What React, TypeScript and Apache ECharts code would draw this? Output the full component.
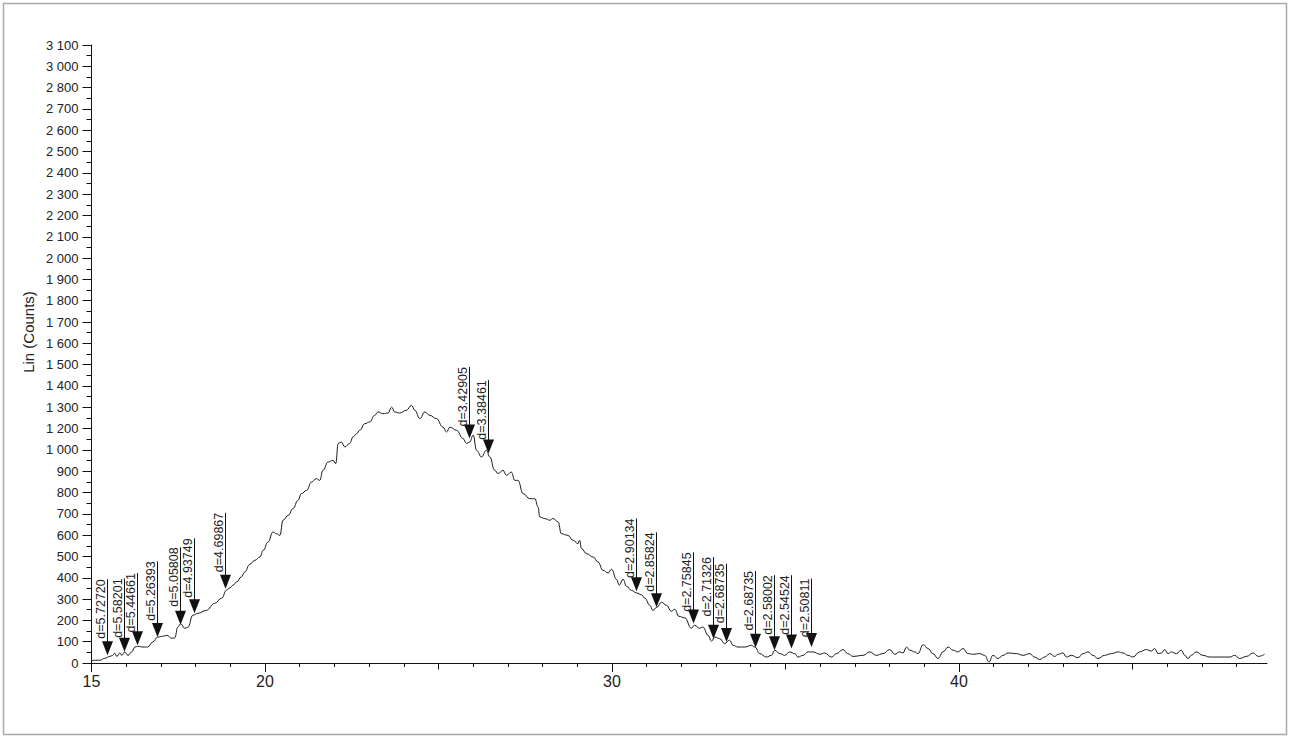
import React, { useEffect, useRef } from "react";
import * as echarts from "echarts";

// Diffractogram trace (2θ in degrees, intensity in axis units)
const twoTheta = [
  15.0, 15.24, 15.38, 15.53, 15.61, 15.67, 15.73, 15.82, 15.87, 15.96, 16.05, 16.16, 16.25, 16.33, 16.48, 16.62,
  16.77, 16.91, 17.05, 17.17, 17.31, 17.4, 17.49, 17.57, 17.69, 17.78, 17.92, 18.06, 18.31, 18.55, 18.75, 18.89,
  18.99, 19.08, 19.18, 19.32, 19.42, 19.56, 19.71, 19.85, 19.95, 20.09, 20.23, 20.33, 20.43, 20.52, 20.67, 20.81,
  20.95, 21.05, 21.2, 21.34, 21.48, 21.58, 21.67, 21.82, 21.96, 22.04, 22.11, 22.2, 22.3, 22.44, 22.54, 22.64,
  22.73, 22.88, 23.02, 23.16, 23.26, 23.4, 23.55, 23.65, 23.74, 23.88, 24.08, 24.22, 24.32, 24.46, 24.61, 24.75,
  24.94, 25.13, 25.23, 25.33, 25.52, 25.71, 25.81, 25.9, 26.0, 26.1, 26.24, 26.38, 26.48, 26.62, 26.72, 26.86,
  26.96, 27.1, 27.2, 27.29, 27.44, 27.63, 27.78, 27.87, 27.92, 28.06, 28.21, 28.3, 28.45, 28.54, 28.73, 28.88,
  29.02, 29.07, 29.12, 29.27, 29.46, 29.6, 29.74, 29.89, 29.99, 30.13, 30.21, 30.32, 30.42, 30.56, 30.71, 30.85,
  30.95, 31.09, 31.18, 31.29, 31.43, 31.57, 31.71, 31.81, 31.93, 32.1, 32.29, 32.38, 32.53, 32.62, 32.77, 32.87,
  32.96, 33.11, 33.25, 33.39, 33.49, 33.63, 33.83, 34.02, 34.12, 34.26, 34.45, 34.6, 34.69, 34.84, 34.98, 35.12,
  35.27, 35.36, 35.51, 35.65, 35.8, 35.99, 36.13, 36.33, 36.47, 36.66, 36.8, 36.95, 37.24, 37.43, 37.62, 37.81,
  38.01, 38.15, 38.29, 38.39, 38.49, 38.58, 38.73, 38.82, 38.97, 39.11, 39.25, 39.4, 39.54, 39.69, 39.83, 39.97,
  40.12, 40.26, 40.41, 40.6, 40.74, 40.87, 40.98, 41.13, 41.27, 41.42, 41.66, 41.85, 42.04, 42.18, 42.33, 42.47,
  42.62, 42.76, 42.86, 43.0, 43.1, 43.24, 43.43, 43.58, 43.72, 43.86, 44.01, 44.2, 44.39, 44.59, 44.73, 44.87,
  45.02, 45.21, 45.4, 45.55, 45.64, 45.74, 45.84, 45.93, 46.03, 46.12, 46.27, 46.41, 46.51, 46.6, 46.7, 46.84,
  47.03, 47.23, 47.52, 47.81, 47.95, 48.09, 48.29, 48.48, 48.63, 48.81,
];
const counts = [
  12, 13, 22, 31, 36, 46, 31, 47, 36, 52, 36, 52, 75, 78, 75, 75,
  99, 122, 125, 130, 116, 118, 169, 184, 163, 168, 224, 233, 247, 280, 304, 341,
  353, 365, 380, 404, 427, 463, 482, 497, 529, 568, 615, 607, 599, 670, 693, 725,
  763, 795, 810, 849, 865, 857, 904, 943, 951, 936, 1030, 1037, 1014, 1030, 1061, 1076,
  1092, 1123, 1131, 1162, 1178, 1170, 1173, 1201, 1178, 1173, 1186, 1209, 1186, 1147, 1178, 1162,
  1147, 1107, 1084, 1107, 1092, 1053, 1030, 1037, 1069, 998, 967, 998, 967, 904, 889, 904,
  881, 896, 857, 857, 795, 771, 771, 732, 685, 678, 670, 678, 662, 607, 599, 576,
  560, 576, 537, 513, 497, 474, 435, 423, 440, 393, 365, 393, 360, 341, 329, 320,
  304, 271, 247, 261, 285, 271, 243, 252, 219, 212, 163, 177, 163, 169, 130, 102,
  122, 114, 91, 107, 83, 75, 75, 83, 75, 44, 28, 36, 60, 44, 36, 52,
  44, 28, 36, 52, 52, 41, 47, 28, 44, 63, 44, 31, 36, 52, 36, 44,
  63, 41, 52, 47, 75, 60, 52, 44, 86, 68, 44, 21, 52, 75, 60, 52,
  68, 44, 41, 44, 36, 5, 36, 21, 36, 47, 44, 36, 44, 28, 16, 28,
  44, 31, 41, 47, 28, 36, 25, 44, 52, 36, 21, 36, 44, 52, 47, 36,
  28, 52, 63, 56, 68, 44, 47, 63, 44, 52, 44, 60, 36, 21, 36, 52,
  36, 28, 28, 28, 36, 21, 31, 47, 31, 41,
];

// Peak markers
const peakLabels = [
  "d=5.72720", "d=5.58201", "d=5.44661", "d=5.26393", "d=5.05808", "d=4.93749", "d=4.69867",
  "d=3.42905", "d=3.38461", "d=2.90134", "d=2.85824", "d=2.75845", "d=2.71326", "d=2.68735",
  "d=2.68735", "d=2.58002", "d=2.54524", "d=2.50811",
];
const peakTwoTheta = [
  15.45, 15.93, 16.3, 16.88, 17.56, 17.94, 18.86, 25.88, 26.43, 30.7, 31.28, 32.34, 32.9, 33.3,
  34.12, 34.67, 35.15, 35.75,
];
const peakTip = [36, 53, 83, 122, 179, 233, 349, 1053, 983, 337, 262, 185, 114, 98, 72, 60, 68, 75];
const peakTop = [393, 397, 422, 477, 543, 585, 705, 1389, 1327, 678, 613, 519, 497, 466, 432, 412, 412, 396];

// Axis tick labels as printed (the original skips 1 100 and 2 900)
const yTickLabels = [
  "0", "100", "200", "300", "400", "500", "600", "700", "800", "900", "1 000", "1 200", "1 300", "1 400",
  "1 500", "1 600", "1 700", "1 800", "1 900", "2 000", "2 100", "2 200", "2 300", "2 400", "2 500",
  "2 600", "2 700", "2 800", "3 000", "3 100",
];
const xLabelValues = [15, 20, 30, 40];
const xMidTicks = [25, 35, 45];
const xMin = 15;
const xMax = 48.88;

const FONT = '"Liberation Sans", Arial, sans-serif';

export default function App() {
  const ref = useRef<HTMLDivElement>(null);
  useEffect(() => {
    if (!ref.current) return;
    const chart = echarts.init(ref.current, undefined, { renderer: "svg" });
    const minorTicks: number[] = [];
    for (let v = Math.ceil(xMin); v <= Math.floor(xMax); v++) minorTicks.push(v);
    const linePoints = twoTheta.map((t, i) => [t, counts[i]]);
    const peaks = peakTwoTheta.map((t, i) => [t, peakTip[i], peakTop[i]]);
    const baseX = {
      type: "value",
      min: xMin,
      max: xMax,
      interval: 5,
      position: "bottom",
      splitLine: { show: false },
    };
    chart.setOption({
      animation: false,
      backgroundColor: "#ffffff",
      grid: { left: 91.5, right: 23, top: 45, bottom: 75 },
      xAxis: [
        {
          ...baseX,
          axisLine: { show: true, lineStyle: { color: "#111", width: 1 } },
          axisTick: { show: true, customValues: xLabelValues, length: 9, lineStyle: { color: "#111" } },
          axisLabel: {
            customValues: xLabelValues,
            margin: 10,
            color: "#222",
            fontSize: 16,
            fontFamily: FONT,
          },
        },
        {
          ...baseX,
          axisLine: { show: false },
          axisTick: { show: true, customValues: xMidTicks, length: 6.5, lineStyle: { color: "#111" } },
          axisLabel: { show: false },
        },
        {
          ...baseX,
          axisLine: { show: false },
          axisTick: { show: true, customValues: minorTicks, length: 4, lineStyle: { color: "#111" } },
          axisLabel: { show: false },
        },
      ],
      yAxis: {
        type: "value",
        min: 0,
        max: (yTickLabels.length - 1) * 100,
        interval: 100,
        splitLine: { show: false },
        axisLine: { show: true, lineStyle: { color: "#111", width: 1 } },
        axisTick: { show: true, length: 9, lineStyle: { color: "#111" } },
        minorTick: { show: true, splitNumber: 2, length: 5, lineStyle: { color: "#111" } },
        axisLabel: {
          margin: 13,
          color: "#222",
          fontSize: 13,
          fontFamily: FONT,
          formatter: (v: number) => yTickLabels[Math.round(v / 100)] ?? "",
        },
      },
      series: [
        {
          type: "line",
          data: linePoints,
          showSymbol: false,
          smooth: 0.45,
          smoothMonotone: "x",
          lineStyle: { color: "#1a1a1a", width: 1 },
          silent: true,
        },
        {
          type: "custom",
          data: peaks,
          encode: { x: 0, y: [1, 2] },
          renderItem: (params: any, api: any) => {
            const x = api.value(0);
            const tip = api.coord([x, api.value(1)]);
            const top = api.coord([x, api.value(2)]);
            const px = Math.round(tip[0]) + 0.5;
            return {
              type: "group",
              children: [
                {
                  type: "line",
                  shape: { x1: px, y1: top[1], x2: px, y2: tip[1] - 13 },
                  style: { stroke: "#111", lineWidth: 1 },
                },
                {
                  type: "polygon",
                  shape: {
                    points: [
                      [px - 5.5, tip[1] - 14],
                      [px + 5.5, tip[1] - 14],
                      [px, tip[1]],
                    ],
                  },
                  style: { fill: "#111" },
                },
                {
                  type: "text",
                  x: px - 0.5,
                  y: top[1],
                  rotation: Math.PI / 2,
                  style: {
                    text: peakLabels[params.dataIndex],
                    fill: "#222",
                    font: `12.5px ${FONT}`,
                    align: "right",
                    verticalAlign: "bottom",
                  },
                },
              ],
            };
          },
        },
      ],
      graphic: [
        {
          type: "rect",
          shape: { x: 3.5, y: 3.5, width: 1283, height: 731 },
          style: { fill: "none", stroke: "#aaaaaa", lineWidth: 1.5 },
          silent: true,
        },
        {
          type: "text",
          x: 28,
          y: 332,
          rotation: Math.PI / 2,
          style: {
            text: "Lin (Counts)",
            fill: "#222",
            font: `15px ${FONT}`,
            align: "center",
            verticalAlign: "middle",
          },
        },
      ],
    });
    return () => chart.dispose();
  }, []);
  return (
    <div
      ref={ref}
      style={{ position: "absolute", left: 0, top: 0, width: 1290, height: 738, background: "#fff" }}
    />
  );
}
